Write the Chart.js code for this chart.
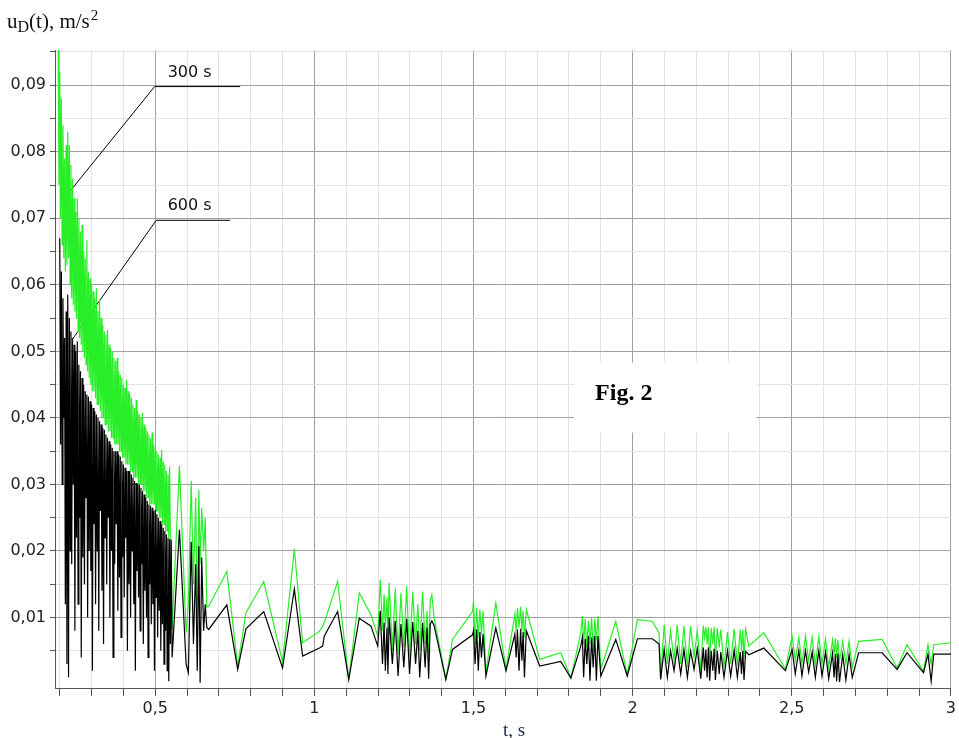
<!DOCTYPE html>
<html>
<head>
    <title>Fig. 2</title>
    <style>
        body {
            margin: 0;
            background: #fff;
        }
        #wrap {
            width: 959px;
            height: 738px;
        }
    </style>
</head>
<body>
    <div id="wrap"><canvas id="fig"></canvas></div>

    <script src="https://cdn.jsdelivr.net/npm/chart.js"></script>
    <script>
        // time, s
        const tSig = [
            0.195,0.1975,0.200,0.2025,0.205,0.2075,0.210,0.2125,
            0.215,0.2175,0.220,0.2225,0.225,0.2275,0.230,0.2325,
            0.235,0.2375,0.240,0.2425,0.245,0.2475,0.250,0.2525,
            0.255,0.2575,0.260,0.2625,0.265,0.2675,0.270,0.2725,
            0.275,0.2775,0.280,0.2825,0.285,0.2875,0.290,0.2925,
            0.295,0.2975,0.300,0.3025,0.305,0.3075,0.310,0.3125,
            0.315,0.3175,0.320,0.3225,0.325,0.3275,0.330,0.3325,
            0.335,0.3375,0.340,0.3425,0.345,0.3475,0.350,0.3525,
            0.355,0.3575,0.360,0.3625,0.365,0.3675,0.370,0.3725,
            0.375,0.3775,0.380,0.3825,0.385,0.3875,0.390,0.3925,
            0.395,0.3975,0.400,0.4025,0.405,0.4075,0.410,0.4125,
            0.415,0.4175,0.420,0.4225,0.425,0.4275,0.430,0.4325,
            0.435,0.4375,0.440,0.4425,0.445,0.4475,0.450,0.4525,
            0.455,0.4575,0.460,0.4625,0.465,0.4675,0.470,0.4725,
            0.475,0.4775,0.480,0.4825,0.485,0.4875,0.490,0.4925,
            0.495,0.4975,0.500,0.5025,0.505,0.5075,0.510,0.5125,
            0.515,0.5175,0.520,0.5225,0.525,0.5275,0.530,0.5325,
            0.535,0.5375,0.540,0.5425,0.545,0.5475,0.550,
            0.553,0.576,0.597,0.604,0.613,0.620,0.627,0.632,0.637,0.641,
            0.646,0.652,0.657,0.662,0.668,0.725,0.759,0.785,0.841,0.900,
            0.937,0.963,1.016,1.026,1.031,1.073,1.108,1.141,1.178,1.199,
            1.207,1.214,1.219,1.223,1.228,1.231,1.235,1.245,1.254,1.263,
            1.272,1.281,1.290,1.299,1.309,1.318,1.325,1.331,1.340,1.348,
            1.354,1.359,1.364,1.369,1.376,1.413,1.434,1.497,1.500,1.505,
            1.510,1.515,1.520,1.525,1.530,1.539,1.570,1.602,1.630,1.634,
            1.638,1.643,1.648,1.652,1.656,1.660,1.666,1.708,1.774,1.806,
            1.837,1.842,1.846,1.851,1.856,1.861,1.866,1.871,1.876,1.881,
            1.886,1.891,1.900,1.947,1.983,2.015,2.062,2.083,2.088,2.099,
            2.109,2.119,2.130,2.140,2.151,2.161,2.172,2.182,2.193,2.203,
            2.214,2.222,2.226,2.230,2.234,2.238,2.242,2.247,2.252,2.256,
            2.260,2.266,2.272,2.277,2.287,2.298,2.308,2.319,2.329,2.338,
            2.342,2.346,2.350,2.355,2.365,2.412,2.480,2.501,2.511,2.522,
            2.532,2.543,2.553,2.564,2.574,2.585,2.595,2.606,2.616,2.628,
            2.633,2.637,2.641,2.645,2.650,2.660,2.670,2.680,2.690,2.710,
            2.784,2.831,2.862,2.914,2.928,2.938,2.946,3.000
        ];

        // u_D(t) for 300 s (green)
        const u300 = [
            0.0955,0.075,0.092,0.070,0.088,0.066,0.084,0.064,
            0.079,0.062,0.081,0.063,0.083,0.064,0.081,0.060,
            0.078,0.058,0.076,0.057,0.073,0.056,0.071,0.055,
            0.073,0.053,0.070,0.052,0.068,0.051,0.069,0.050,
            0.065,0.049,0.064,0.048,0.0667,0.047,0.062,0.046,
            0.061,0.045,0.060,0.044,0.059,0.044,0.058,0.043,
            0.0595,0.042,0.056,0.042,0.0578,0.041,0.055,0.040,
            0.054,0.040,0.053,0.039,0.0525,0.039,0.0532,0.038,
            0.051,0.038,0.0505,0.037,0.050,0.037,0.049,0.036,
            0.0485,0.036,0.049,0.036,0.047,0.035,0.0465,0.035,
            0.046,0.034,0.045,0.034,0.0445,0.033,0.0457,0.033,
            0.044,0.033,0.0435,0.032,0.043,0.032,0.042,0.031,
            0.0415,0.031,0.0427,0.031,0.041,0.030,0.0405,0.030,
            0.040,0.030,0.0408,0.029,0.039,0.029,0.0385,0.028,
            0.038,0.028,0.0375,0.027,0.037,0.027,0.0378,0.027,
            0.036,0.027,0.0355,0.026,0.035,0.026,0.0345,0.025,
            0.034,0.025,0.0352,0.024,0.0335,0.024,0.033,0.023,
            0.032,0.023,0.0315,0.022,0.0327,0.022,0.0214,
            0.0082,0.0328,0.0077,0.0120,0.0305,0.0150,0.0280,0.0100,0.0292,0.0180,
            0.0265,0.0200,0.0250,0.0116,0.0117,0.0169,0.0027,0.0107,0.0154,0.0033,
            0.0203,0.0062,0.0079,0.0087,0.0092,0.0154,0.0007,0.0137,0.0104,0.0072,
            0.0157,0.0080,0.0135,0.0085,0.0130,0.0075,0.0152,0.0050,0.0144,0.0045,
            0.0137,0.0055,0.0147,0.0040,0.0139,0.0060,0.0120,0.0050,0.0139,0.0060,
            0.0110,0.0045,0.0125,0.0134,0.0100,0.0007,0.0067,0.0109,0.0125,0.0060,
            0.0115,0.0070,0.0112,0.0075,0.0110,0.0017,0.0122,0.0022,0.0105,0.0080,
            0.0114,0.0085,0.0116,0.0080,0.0110,0.0070,0.0112,0.0037,0.0047,0.0009,
            0.0077,0.0102,0.0060,0.0098,0.0055,0.0095,0.0060,0.0100,0.0050,0.0098,
            0.0065,0.0102,0.0022,0.0094,0.0014,0.0097,0.0094,0.0077,0.0009,0.0089,
            0.0030,0.0080,0.0035,0.0089,0.0030,0.0087,0.0025,0.0087,0.0040,0.0080,
            0.0020,0.0088,0.0070,0.0086,0.0060,0.0085,0.0035,0.0084,0.0060,0.0086,
            0.0040,0.0084,0.0055,0.0082,0.0025,0.0078,0.0030,0.0083,0.0028,0.0082,
            0.0050,0.0082,0.0040,0.0082,0.0057,0.0077,0.0022,0.0072,0.0035,0.0070,
            0.0030,0.0072,0.0035,0.0070,0.0028,0.0071,0.0030,0.0068,0.0025,0.0066,
            0.0045,0.0068,0.0040,0.0066,0.0035,0.0064,0.0030,0.0064,0.0025,0.0064,
            0.0067,0.0024,0.0059,0.0019,0.0059,0.0030,0.0059,0.0062
        ];

        // u_D(t) for 600 s (black)
        const u600 = [
            null,null,0.067,0.036,0.062,0.030,0.058,0.040,
            0.052,0.012,0.056,0.003,0.0585,0.001,0.055,0.020,
            0.053,0.018,0.052,0.030,0.051,0.008,0.050,0.022,
            0.0515,0.012,0.048,0.025,0.047,0.004,0.046,0.019,
            0.045,0.015,0.044,0.028,0.0435,0.010,0.0432,0.020,
            0.0425,0.017,0.042,0.002,0.0415,0.024,0.041,0.012,
            0.0405,0.020,0.040,0.008,0.0395,0.026,0.039,0.014,
            0.0385,0.006,0.0382,0.022,0.0375,0.015,0.037,0.025,
            0.0365,0.010,0.036,0.020,0.0355,0.004,0.035,0.018,
            0.035,0.024,0.035,0.011,0.0345,0.016,0.0342,0.007,
            0.0335,0.019,0.033,0.013,0.0325,0.022,0.032,0.005,
            0.032,0.015,0.032,0.010,0.0315,0.020,0.031,0.012,
            0.0305,0.002,0.0302,0.017,0.030,0.013,0.030,0.008,
            0.0295,0.018,0.029,0.006,0.0285,0.014,0.028,0.010,
            0.0275,0.004,0.027,0.015,0.0268,0.009,0.0265,0.012,
            0.026,0.002,0.0262,0.013,0.0255,0.007,0.025,0.011,
            0.0245,0.005,0.024,0.009,0.0235,0.003,0.023,0.008,
            0.0225,0.002,0.022,0.0004,0.0218,0.006,0.0217,
            0.0040,0.0232,0.0030,0.0017,0.0214,0.0060,0.0180,0.0020,0.0207,0.0002,
            0.0190,0.0080,0.0120,0.0085,0.0082,0.0119,0.0022,0.0083,0.0109,0.0024,
            0.0143,0.0042,0.0054,0.0057,0.0072,0.0109,0.0007,0.0099,0.0087,0.0057,
            0.0110,0.0030,0.0092,0.0020,0.0085,0.0015,0.0100,0.0030,0.0095,0.0012,
            0.0090,0.0025,0.0098,0.0015,0.0093,0.0030,0.0080,0.0010,0.0092,0.0025,
            0.0085,0.0008,0.0090,0.0095,0.0088,0.0007,0.0052,0.0074,0.0080,0.0030,
            0.0082,0.0020,0.0078,0.0040,0.0075,0.0012,0.0084,0.0020,0.0075,0.0040,
            0.0082,0.0020,0.0083,0.0035,0.0078,0.0010,0.0080,0.0027,0.0034,0.0009,
            0.0057,0.0070,0.0010,0.0068,0.0030,0.0072,0.0005,0.0070,0.0025,0.0072,
            0.0005,0.0072,0.0012,0.0067,0.0012,0.0068,0.0068,0.0060,0.0007,0.0052,
            0.0010,0.0050,0.0020,0.0054,0.0015,0.0052,0.0010,0.0050,0.0022,0.0053,
            0.0008,0.0055,0.0020,0.0052,0.0010,0.0055,0.0005,0.0050,0.0020,0.0053,
            0.0006,0.0050,0.0015,0.0048,0.0010,0.0050,0.0012,0.0051,0.0010,0.0048,
            0.0015,0.0050,0.0006,0.0049,0.0044,0.0054,0.0020,0.0052,0.0015,0.0050,
            0.0012,0.0050,0.0018,0.0048,0.0010,0.0050,0.0012,0.0048,0.0008,0.0046,
            0.0010,0.0045,0.0004,0.0046,0.0003,0.0044,0.0006,0.0044,0.0010,0.0047,
            0.0047,0.0022,0.0047,0.0017,0.0045,0.0004,0.0045,0.0045
        ];

        // axis ticks and labels
        const xTicks = [0.2,0.3,0.4,0.5,0.6,0.7,0.8,0.9,1.0,1.1,1.2,1.3,1.4,1.5,1.6,1.7,1.8,1.9,2.0,
                        2.1,2.2,2.3,2.4,2.5,2.6,2.7,2.8,2.9,3.0];
        const xMajor = [0.5, 1, 1.5, 2, 2.5, 3];
        const xMajorLabels = ['0,5', '1', '1,5', '2', '2,5', '3'];
        const yTicks = [0.005,0.01,0.015,0.02,0.025,0.03,0.035,0.04,0.045,0.05,0.055,0.06,0.065,
                        0.07,0.075,0.08,0.085,0.09,0.095];
        const yMajor = [0.01, 0.02, 0.03, 0.04, 0.05, 0.06, 0.07, 0.08, 0.09];
        const yMajorLabels = ['0,01', '0,02', '0,03', '0,04', '0,05', '0,06', '0,07', '0,08', '0,09'];

        // curve captions (leader lines in data units)
        const lead300T = [0.231, 0.498, 0.767];
        const lead300V = [0.0740, 0.0898, 0.0898];
        const lead600T = [0.238, 0.503, 0.735];
        const lead600V = [0.0517, 0.0697, 0.0697];
        const captions = ['300 s', '600 s'];
        const captionT = [0.539, 0.539];
        const captionV = [0.0912, 0.0712];

        // "Fig. 2" box
        const figBoxT = [1.816, 2.390];
        const figBoxV = [0.0378, 0.0483];
        const figTextT = 1.882;
        const figTextV = 0.0427;

        const toXY = (ts, vs) => ts.map((t, i) => ({x: t, y: vs[i]}));

        function findMajor(v, list) {
            for (let i = 0; i < list.length; i++) {
                if (Math.abs(v - list[i]) < 1e-6) return i;
            }
            return -1;
        }

        const decor = {
            id: 'decor',
            afterDraw(chart) {
                const ctx = chart.ctx;
                const x = chart.scales.x, y = chart.scales.y;
                ctx.save();

                // white box with figure number
                const bx0 = x.getPixelForValue(figBoxT[0]), bx1 = x.getPixelForValue(figBoxT[1]);
                const by0 = y.getPixelForValue(figBoxV[1]), by1 = y.getPixelForValue(figBoxV[0]);
                ctx.fillStyle = '#fff';
                ctx.fillRect(bx0, by0, bx1 - bx0, by1 - by0);
                ctx.fillStyle = '#000';
                ctx.font = 'bold 24px "Liberation Serif"';
                ctx.textBaseline = 'alphabetic';
                ctx.fillText('Fig. 2', x.getPixelForValue(figTextT), y.getPixelForValue(figTextV));

                // captions
                ctx.font = '16px "DejaVu Sans"';
                ctx.fillStyle = '#111';
                captions.forEach((c, i) => {
                    ctx.fillText(c, x.getPixelForValue(captionT[i]), y.getPixelForValue(captionV[i]));
                });

                // y axis title: u_D(t), m/s^2
                let px = 7;
                ctx.fillStyle = '#111';
                ctx.font = '21px "Liberation Serif"';
                ctx.fillText('u', px, 28);
                px += ctx.measureText('u').width;
                ctx.font = '16px "Liberation Serif"';
                ctx.fillText('D', px, 32);
                px += ctx.measureText('D').width;
                ctx.font = '21px "Liberation Serif"';
                ctx.fillText('(t), m/s', px, 28);
                px += ctx.measureText('(t), m/s').width + 1;
                ctx.font = '15px "Liberation Serif"';
                ctx.fillText('2', px, 20);

                // x axis title
                ctx.font = '19px "Liberation Serif"';
                ctx.fillStyle = '#1c2a4a';
                ctx.fillText('t, s', 503, 736);

                ctx.restore();
            }
        };

        const ctx = document.getElementById('fig').getContext('2d');
        const chart = new Chart(ctx, {
            type: 'line',
            data: {
                datasets: [
                    {
                        label: '600 s',
                        data: toXY(tSig, u600),
                        borderColor: '#000',
                        borderWidth: 1.2,
                    },
                    {
                        label: '300 s',
                        data: toXY(tSig, u300),
                        borderColor: 'rgb(40,238,40)',
                        borderWidth: 1.2,
                    },
                    {
                        label: 'lead300',
                        data: toXY(lead300T, lead300V),
                        borderColor: '#000',
                        borderWidth: 1,
                        clip: false,
                    },
                    {
                        label: 'lead600',
                        data: toXY(lead600T, lead600V),
                        borderColor: '#000',
                        borderWidth: 1,
                        clip: false,
                    },
                ],
            },
            options: {
                responsive: true,
                maintainAspectRatio: false,
                animation: false,
                layout: {
                    padding: {top: 50, right: 4, left: 0, bottom: 0},
                },
                elements: {
                    point: {radius: 0},
                    line: {tension: 0, fill: false},
                },
                plugins: {
                    legend: {display: false},
                    tooltip: {enabled: false},
                },
                scales: {
                    x: {
                        type: 'linear',
                        min: 0.185,
                        max: 3.0,
                        afterBuildTicks: s => { s.ticks = xTicks.map(v => ({value: v})); },
                        afterFit: s => { s.height = 50; },
                        ticks: {
                            autoSkip: false,
                            maxRotation: 0,
                            padding: 3,
                            color: '#222',
                            font: {family: 'DejaVu Sans', size: 16},
                            callback: v => {
                                const i = findMajor(v, xMajor);
                                return i >= 0 ? xMajorLabels[i] : '';
                            },
                        },
                        grid: {
                            color: c => (c.tick && findMajor(c.tick.value, xMajor) >= 0) ? '#a0a0a0' : '#e3e3e3',
                            tickColor: '#555',
                            tickLength: 8,
                        },
                        border: {color: '#555'},
                    },
                    y: {
                        type: 'linear',
                        min: -0.0006,
                        max: 0.0953,
                        afterBuildTicks: s => { s.ticks = yTicks.map(v => ({value: v})); },
                        afterFit: s => { s.width = 55; },
                        ticks: {
                            autoSkip: false,
                            padding: 4,
                            color: '#222',
                            font: {family: 'DejaVu Sans', size: 16},
                            callback: v => {
                                const i = findMajor(v, yMajor);
                                return i >= 0 ? yMajorLabels[i] : '';
                            },
                        },
                        grid: {
                            color: c => (c.tick && findMajor(c.tick.value, yMajor) >= 0) ? '#a0a0a0' : '#e3e3e3',
                            tickColor: '#555',
                            tickLength: 5,
                        },
                        border: {color: '#555'},
                    },
                },
            },
            plugins: [decor],
        });
    </script>
</body>
</html>
